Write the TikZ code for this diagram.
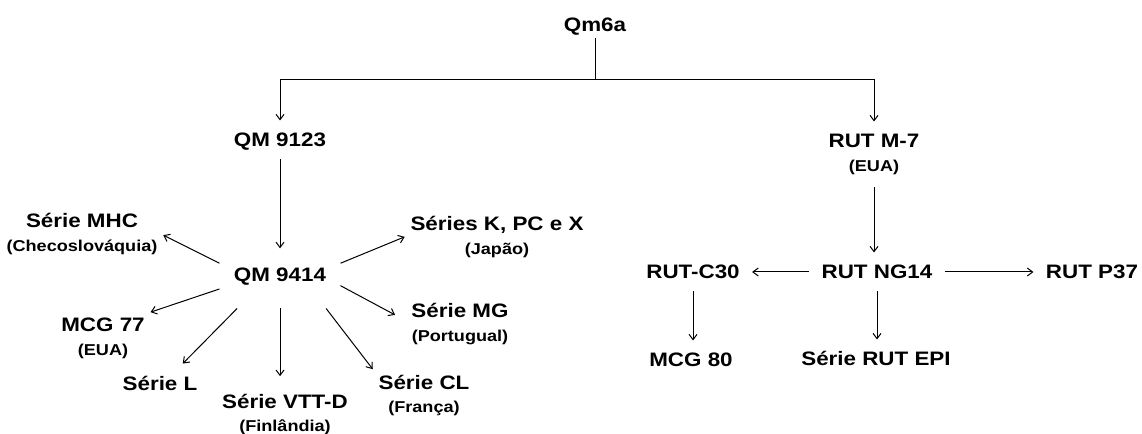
\documentclass[tikz,border=0pt]{standalone}
\usepackage{fontspec}
\setmainfont{Liberation Sans}[FakeStretch=1.15]
\usetikzlibrary{arrows.meta,positioning}

\begin{document}
\begin{tikzpicture}[x=0.75pt, y=-0.75pt, node distance=1pt, line width=0.75pt,
    >={Straight Barb[length=4pt,width=6pt]},
    main/.style={font=\fontsize{14.6}{17}\selectfont\bfseries, anchor=base,
                 inner sep=4pt, text height=10.5pt, text depth=0pt},
    sub/.style={font=\fontsize{11.8}{13}\selectfont\bfseries,
                inner sep=4pt, text height=8pt, text depth=2.3pt},
    link/.style={->, shorten >=5pt, shorten <=5pt},
    ray/.style={->}]
  \useasboundingbox (0,0) rectangle (1142,434);

  % top of the tree
  \node[main] (qm6a)  at (595,32)  {Qm6a};
  \node[main] (q9123) at (280,147) {QM 9123};
  \node[main] (rutm7) at (874,148) {RUT M-7};
  \node[sub]  (rutm7C) [below=of rutm7] {(EUA)};

  % left branch
  \node[main, minimum width=90pt, minimum height=49.5pt] (q9414) at (280,282) {QM 9414};
  \node[main] (mhc)   at (82,228)  {Série MHC};
  \node[sub]  (mhcC)  [below=of mhc]   {(Checoslováquia)};
  \node[main] (serK)  at (497,231) {Séries K, PC e X};
  \node[sub]  (serKC) [below=of serK]  {(Japão)};
  \node[main] (mcg77) at (103,332) {MCG 77};
  \node[sub]  (mcg77C) [below=of mcg77] {(EUA)};
  \node[main] (serMG) at (460,318) {Série MG};
  \node[sub]  (serMGC) [below=of serMG] {(Portugual)};
  \node[main] (serL)  at (160,391) {Série L};
  \node[main] (vttd)  at (285,408) {Série VTT-D};
  \node[sub]  (vttdC) [below=of vttd]  {(Finlândia)};
  \node[main] (serCL) at (424,389) {Série CL};
  \node[sub]  (serCLC) [below=of serCL] {(França)};

  % right branch
  \node[main] (ng14)  at (877,279)  {RUT NG14};
  \node[main] (c30)   at (693,279)  {RUT-C30};
  \node[main] (p37)   at (1092,279) {RUT P37};
  \node[main] (mcg80) at (691,367)  {MCG 80};
  \node[main] (epi)   at (876,366)  {Série RUT EPI};

  \draw (qm6a.south) -- ++(0,42) coordinate (split);
  \draw[->, shorten >=5pt] (split) -| (q9123);
  \draw[->, shorten >=5pt] (split) -| (rutm7);
  \draw[->, shorten <=5pt, shorten >=20pt] (q9123) -- (q9414.center);

  \path[ray]
      (q9414.169) edge (mhcC.north east)
      (q9414.11)  edge (serK.south west)
      (q9414.193) edge (mcg77.north east)
      (q9414.218) edge [shorten >=8pt] (serL.40)
      (q9414.324) edge (serCL.north west)
      (q9414.350) edge [shorten >=9pt] (serMG.190);
  \draw[->, shorten >=9pt] (q9414.270) -- (q9414.270 |- vttd.north);

  \path[link]
      (rutm7C.south) edge (rutm7C.south |- ng14.north)
      (ng14)         edge (c30)
      (ng14)         edge (p37)
      (c30.south)    edge (c30.south |- mcg80.north)
      (ng14.south)   edge (ng14.south |- epi.north);
\end{tikzpicture}
\end{document}
